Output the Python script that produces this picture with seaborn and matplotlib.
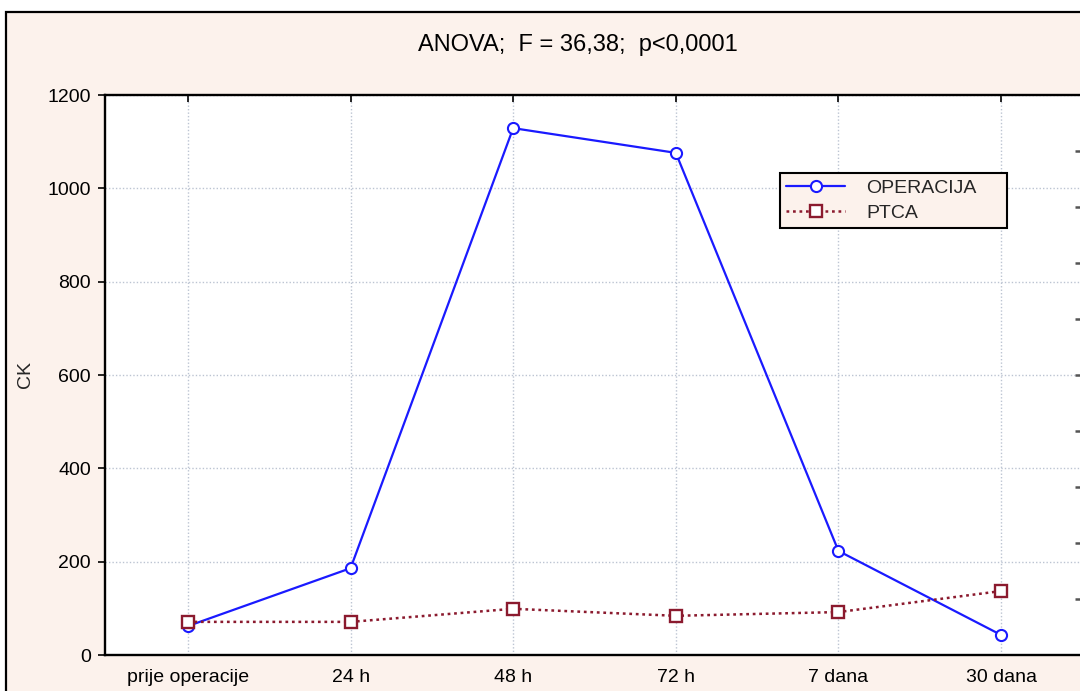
import pandas as pd
import numpy as np
import matplotlib
matplotlib.use("Agg")
import matplotlib.pyplot as plt
import matplotlib.patches as mpatches
from matplotlib.lines import Line2D
import seaborn as sns

# -------------------------
# Data
# -------------------------
time_points = ["prije operacije", "24 h", "48 h", "72 h", "7 dana", "30 dana"]
operacija = [62, 186, 1129, 1076, 223, 43]
ptca = [71, 71, 99, 84, 92, 137]

title_text = "ANOVA;  F = 36,38;  p<0,0001"

peach = "#fcf2ec"
blue = "#1a1aff"
maroon = "#8b1a2e"

df = pd.DataFrame({
    "pos": np.arange(len(time_points)),
    "OPERACIJA": operacija,
    "PTCA": ptca,
})

sns.set_theme(style="white")
plt.rcParams["font.family"] = ["Liberation Sans", "DejaVu Sans"]

fig = plt.figure(figsize=(10.8, 6.91), dpi=100, facecolor="white")

# outer frame (cropped on right and bottom)
frame = mpatches.Rectangle((6 / 1080, -0.02), 1.05, (691 - 12) / 691 + 0.02,
                           transform=fig.transFigure, facecolor=peach,
                           edgecolor="black", linewidth=1.6, zorder=-10)
fig.patches.append(frame)

ax = fig.add_axes([105 / 1080, (691 - 655) / 691, 979 / 1080, 560 / 691])
ax.set_facecolor("white")

sns.lineplot(data=df, x="pos", y="OPERACIJA", ax=ax, color=blue, linewidth=1.6,
             marker="o", markersize=8, markerfacecolor="white",
             markeredgecolor=blue, markeredgewidth=1.5, zorder=3)
sns.lineplot(data=df, x="pos", y="PTCA", ax=ax, color=maroon, linewidth=1.8,
             linestyle=(0, (1.1, 1.5)), marker="s", markersize=8,
             markerfacecolor="white", markeredgecolor=maroon,
             markeredgewidth=1.7, zorder=3)

ax.set_xlim(-0.51, 5.51)
ax.set_ylim(0, 1200)
ax.set_xticks(df["pos"])
ax.set_xticklabels(time_points)
ax.set_yticks(np.arange(0, 1201, 200))
ax.set_xlabel("")
ax.set_ylabel("CK", fontsize=14, labelpad=10)

ax.grid(True, linestyle=(0, (1, 1.5)), color="#bcc4d2", linewidth=1.0)
ax.set_axisbelow(True)

for s in ax.spines.values():
    s.set_color("black")
    s.set_linewidth(1.7)

ax.tick_params(axis="x", direction="out", length=4, width=1.2, colors="black",
               labelsize=14, pad=6, top=True, labeltop=False)
ax.tick_params(axis="y", direction="out", length=5, width=1.2, colors="black",
               labelsize=14, pad=5)
# top ticks point inward
for t in ax.xaxis.get_major_ticks():
    t.tick2line.set_marker(3)
    t.tick2line.set_markersize(5)

# right axis ticks (partly visible at the edge)
ax2 = ax.twinx()
ax2.set_ylim(0, 1)
ax2.set_yticks(np.arange(0.1, 0.95, 0.1))
ax2.set_yticklabels([])
ax2.tick_params(axis="y", direction="in", length=6.5, width=1.8, colors="#555555")
ax2.grid(False)
for s in ax2.spines.values():
    s.set_visible(False)

fig.text(578 / 1080, (691 - 45) / 691, title_text, ha="center", va="center",
         fontsize=17, color="black")

handles = [
    Line2D([], [], color=blue, linewidth=1.6, marker="o", markersize=8,
           markerfacecolor="white", markeredgecolor=blue, markeredgewidth=1.5),
    Line2D([], [], color=maroon, linewidth=1.8, linestyle=(0, (1.1, 1.5)),
           marker="s", markersize=8, markerfacecolor="white",
           markeredgecolor=maroon, markeredgewidth=1.7),
]
leg = ax.legend(handles, ["OPERACIJA", "PTCA"], loc="upper left",
                bbox_to_anchor=(0.689, 0.763, 0.232, 0.098),
                mode="expand", fontsize=14, handlelength=3.0,
                handletextpad=1.1, labelspacing=0.35, borderpad=0.35,
                borderaxespad=0, fancybox=False, framealpha=1,
                facecolor=peach, edgecolor="black")
leg.get_frame().set_linewidth(1.5)
leg.set_zorder(5)

fig.savefig("out.png", dpi=100, facecolor="white")
